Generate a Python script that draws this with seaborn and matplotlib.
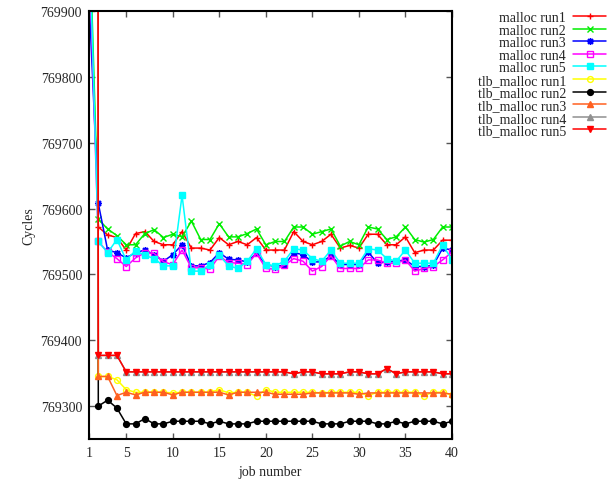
import numpy as np
import pandas as pd
import matplotlib
matplotlib.use("Agg")
import matplotlib.pyplot as plt
import seaborn as sns
from matplotlib.ticker import FixedLocator, FuncFormatter

sns.set_style("ticks")
plt.rcParams['font.family'] = ['Liberation Serif', 'DejaVu Serif']

jobs = list(range(1, 41))

malloc_run1 = [790000, 769572, 769560, 769556, 769537, 769562, 769565, 769550, 769545, 769545,
               769565, 769540, 769540, 769537, 769556, 769545, 769550, 769545, 769556, 769537,
               769537, 769537, 769565, 769550, 769545, 769550, 769561, 769540, 769544, 769540,
               769561, 769561, 769545, 769545, 769557, 769533, 769537, 769537, 769552, 769552]
malloc_run2 = [770050, 769584, 769569, 769559, 769545, 769545, 769562, 769568, 769556, 769561,
               769557, 769581, 769553, 769553, 769577, 769557, 769557, 769562, 769569, 769545,
               769550, 769550, 769572, 769572, 769561, 769565, 769569, 769543, 769550, 769545,
               769572, 769569, 769553, 769557, 769572, 769553, 769549, 769553, 769572, 769572]
malloc_run3 = [769920, 769608, 769537, 769533, 769525, 769533, 769537, 769530, 769520, 769530,
               769545, 769513, 769513, 769518, 769533, 769523, 769522, 769519, 769532, 769515,
               769512, 769514, 769533, 769530, 769519, 769519, 769528, 769515, 769515, 769515,
               769534, 769517, 769519, 769520, 769522, 769512, 769512, 769514, 769540, 769537]
malloc_run4 = [770000, 769550, 769534, 769524, 769512, 769525, 769533, 769532, 769519, 769515,
               769537, 769510, 769510, 769508, 769528, 769518, 769517, 769515, 769532, 769509,
               769508, 769514, 769524, 769520, 769505, 769512, 769528, 769509, 769509, 769509,
               769522, 769522, 769517, 769517, 769522, 769505, 769509, 769512, 769522, 769534]
malloc_run5 = [770030, 769550, 769533, 769553, 769522, 769536, 769529, 769524, 769513, 769513,
               769620, 769505, 769505, 769515, 769529, 769513, 769509, 769520, 769539, 769515,
               769513, 769520, 769539, 769537, 769524, 769520, 769537, 769517, 769517, 769517,
               769539, 769537, 769524, 769520, 769537, 769517, 769517, 769517, 769545, 769522]
tlb_run1 = [800000, 769345, 769345, 769340, 769325, 769321, 769321, 769321, 769321, 769320,
            769321, 769321, 769321, 769321, 769325, 769320, 769321, 769321, 769315, 769325,
            769321, 769321, 769321, 769321, 769321, 769320, 769321, 769321, 769321, 769321,
            769316, 769321, 769321, 769321, 769321, 769321, 769316, 769321, 769321, 769317]
tlb_run2 = [800000, 769300, 769309, 769297, 769273, 769273, 769281, 769273, 769273, 769277,
            769277, 769277, 769277, 769273, 769277, 769273, 769273, 769273, 769277, 769277,
            769277, 769277, 769277, 769277, 769277, 769273, 769273, 769273, 769277, 769277,
            769277, 769273, 769273, 769277, 769273, 769277, 769277, 769277, 769273, 769277]
tlb_run3 = [800000, 769345, 769345, 769316, 769321, 769317, 769321, 769321, 769321, 769317,
            769321, 769321, 769321, 769321, 769321, 769317, 769321, 769321, 769321, 769321,
            769318, 769318, 769318, 769318, 769320, 769320, 769320, 769320, 769320, 769318,
            769320, 769320, 769320, 769320, 769320, 769320, 769320, 769320, 769320, 769318]
tlb_run4 = [800000, 769377, 769377, 769377, 769352, 769352, 769352, 769352, 769352, 769352,
            769352, 769352, 769352, 769352, 769352, 769352, 769352, 769352, 769352, 769352,
            769352, 769352, 769349, 769352, 769352, 769349, 769349, 769349, 769352, 769352,
            769349, 769349, 769357, 769349, 769352, 769352, 769352, 769352, 769349, 769349]
tlb_run5 = [800000, 769377, 769377, 769377, 769352, 769352, 769352, 769352, 769352, 769352,
            769352, 769352, 769352, 769352, 769352, 769352, 769352, 769352, 769352, 769352,
            769352, 769352, 769349, 769352, 769352, 769349, 769349, 769349, 769352, 769352,
            769349, 769349, 769357, 769349, 769352, 769352, 769352, 769352, 769349, 769349]

labels = ["malloc run1", "malloc run2", "malloc run3", "malloc run4", "malloc run5",
          "tlb_malloc run1", "tlb_malloc run2", "tlb_malloc run3", "tlb_malloc run4", "tlb_malloc run5"]
series = [malloc_run1, malloc_run2, malloc_run3, malloc_run4, malloc_run5,
          tlb_run1, tlb_run2, tlb_run3, tlb_run4, tlb_run5]
colors = ["#ff0000", "#00ee00", "#0000ff", "#ff00ff", "#00ffff",
          "#ffff00", "#000000", "#ff6020", "#909090", "#ff0000"]
markers = ["+", "x", (8, 2, 0), "s", "s", "o", "o", "^", "^", "v"]
filled = [True, True, True, False, True, False, True, True, True, True]

x_ticks = [1, 5, 10, 15, 20, 25, 30, 35, 40]
y_ticks = [769300, 769400, 769500, 769600, 769700, 769800, 769900]

fig = plt.figure(figsize=(6.07, 4.81), dpi=100)
ax = fig.add_axes([0.1466, 0.0852, 0.598, 0.8898])

for lab, vals, col, mk, fl in zip(labels, series, colors, markers, filled):
    df = pd.DataFrame({"job": jobs, "cycles": vals})
    kw = dict(marker=mk, markersize=5 if mk in ("+", "x") or isinstance(mk, tuple) else 4.2,
              markeredgecolor=col, markeredgewidth=1.0)
    kw["markerfacecolor"] = col if fl else "none"
    sns.lineplot(data=df, x="job", y="cycles", ax=ax, color=col, linewidth=1.1,
                 label=lab, legend=False, **kw)

ax.set_xlim(1, 40)
ax.set_ylim(769250, 769900)
ax.xaxis.set_major_locator(FixedLocator(x_ticks))
ax.yaxis.set_major_locator(FixedLocator(y_ticks))
ax.yaxis.set_major_formatter(FuncFormatter(lambda v, p: f"{int(round(v))}"))
ax.tick_params(direction="in", length=4, width=1, color="#555555", labelsize=10,
               top=True, right=True, pad=5)
for s in ax.spines.values():
    s.set_color("black")
    s.set_linewidth(1.5)
ax.set_xlabel("job number", fontsize=10)
ax.set_ylabel("Cycles", fontsize=10)

handles, labs = ax.get_legend_handles_labels()
leg = fig.legend(handles, labs, loc="upper right", bbox_to_anchor=(0.999, 0.975),
                 markerfirst=False, frameon=False, fontsize=10, labelspacing=-0.03,
                 handlelength=2.4, handletextpad=0.5, borderaxespad=0.0, borderpad=0.0)

fig.savefig("out.png", dpi=100)
